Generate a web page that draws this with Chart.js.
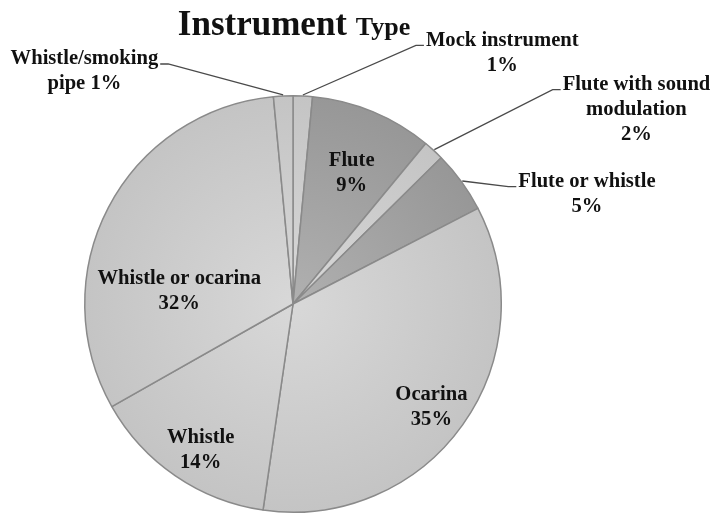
<!DOCTYPE html>
<html>
<head>
<meta charset="utf-8">
<script src="https://cdn.jsdelivr.net/npm/chart.js@4.4.0/dist/chart.umd.min.js"></script>
<style>
    html, body { margin: 0; padding: 0; background: #ffffff; }
    #wrap { width: 713px; height: 517px; }
</style>
</head>
<body>
<div id="wrap"><canvas id="instrumentchart"></canvas></div>
<script>
"use strict";

/* data, clockwise from 12 o'clock */
var categories = ['Mock instrument', 'Flute', 'Flute with sound modulation', 'Flute or whistle', 'Ocarina', 'Whistle', 'Whistle or ocarina', 'Whistle/smoking pipe'];
var sliceShares = [1.5, 9.5, 1.6, 4.8, 34.9, 14.5, 31.7, 1.5];
var percentLabels = ['1%', '9%', '2%', '5%', '35%', '14%', '32%', '1%'];
var labelLines = [
    ['Mock instrument', percentLabels[0]],
    ['Flute', percentLabels[1]],
    ['Flute with sound', 'modulation', percentLabels[2]],
    ['Flute or whistle', percentLabels[3]],
    ['Ocarina', percentLabels[4]],
    ['Whistle', percentLabels[5]],
    ['Whistle or ocarina', percentLabels[6]],
    ['Whistle/smoking', 'pipe ' + percentLabels[7]]
];

/* label placement: angle (deg clockwise from top), distance in radii, leader line */
var labelPlace = [
    { a: 39.8, r: 1.57, lead: true },
    { a: 24.1, r: 0.69, lead: false },
    { a: 60.5, r: 1.895, lead: true },
    { a: 69.5, r: 1.507, lead: true },
    { a: 126.8, r: 0.83, lead: false },
    { a: 212.3, r: 0.83, lead: false },
    { a: 276.5, r: 0.55, lead: false },
    { a: 318.1, r: 1.50, lead: true }
];
var darkSlices = [false, true, false, true, false, false, false, false];

var labelFont = 'bold 20.6px "Liberation Serif", "Times New Roman", serif';

function sliceFill(context) {
    var chart = context.chart;
    var area = chart.chartArea;
    var dark = darkSlices[context.dataIndex];
    if (!area) {
        return dark ? '#a0a0a0' : '#cbcbcb';
    }
    var cx = (area.left + area.right) / 2;
    var cy = (area.top + area.bottom) / 2;
    var r = Math.min(area.right - area.left, area.bottom - area.top) / 2;
    var g = chart.ctx.createRadialGradient(cx, cy, 0, cx, cy, r);
    if (dark) {
        g.addColorStop(0, '#b0b0b0');
        g.addColorStop(1, '#979797');
    } else {
        g.addColorStop(0, '#d8d8d8');
        g.addColorStop(1, '#c4c4c4');
    }
    return g;
}

/* title with mixed sizes, like the original */
var titlePlugin = {
    id: 'mixedTitle',
    afterDraw: function (chart) {
        var ctx = chart.ctx;
        var arc = chart.getDatasetMeta(0).data[0];
        ctx.save();
        ctx.fillStyle = '#111111';
        ctx.textBaseline = 'alphabetic';
        ctx.font = 'bold 35px "Liberation Serif", serif';
        var w1 = ctx.measureText('Instrument ').width;
        ctx.font = 'bold 26px "Liberation Serif", serif';
        var w2 = ctx.measureText('Type').width;
        var x0 = arc.x + 1 - (w1 + w2) / 2;
        ctx.textAlign = 'left';
        ctx.font = 'bold 35px "Liberation Serif", serif';
        ctx.fillText('Instrument ', x0, 35);
        ctx.font = 'bold 26px "Liberation Serif", serif';
        ctx.fillText('Type', x0 + w1, 35);
        ctx.restore();
    }
};

/* slice labels with leader lines */
var sliceLabelPlugin = {
    id: 'sliceLabels',
    afterDatasetsDraw: function (chart) {
        var ctx = chart.ctx;
        var arcs = chart.getDatasetMeta(0).data;
        var lineGap = 25;
        ctx.save();
        ctx.font = labelFont;
        ctx.fillStyle = '#111111';
        ctx.textAlign = 'center';
        ctx.textBaseline = 'middle';
        arcs.forEach(function (arc, i) {
            var place = labelPlace[i];
            var lines = labelLines[i];
            var R = arc.outerRadius;
            var t = (place.a - 90) * Math.PI / 180;
            var bx = arc.x + Math.cos(t) * place.r * R;
            var by = arc.y + Math.sin(t) * place.r * R;
            var y0 = by - (lines.length - 1) * lineGap / 2;
            if (place.lead) {
                var mid = (arc.startAngle + arc.endAngle) / 2;
                var px = arc.x + Math.cos(mid) * (R + 1);
                var py = arc.y + Math.sin(mid) * (R + 1);
                var w = ctx.measureText(lines[0]).width;
                var right = bx > arc.x;
                var ex = right ? bx - w / 2 - 2 : bx + w / 2 + 2;
                var ey = y0 + 5;
                var elbow = right ? ex - 8 : ex + 8;
                ctx.beginPath();
                ctx.strokeStyle = '#4a4a4a';
                ctx.lineWidth = 1.3;
                ctx.moveTo(px, py);
                ctx.lineTo(elbow, ey);
                ctx.lineTo(ex, ey);
                ctx.stroke();
            }
            lines.forEach(function (txt, k) {
                ctx.fillText(txt, bx, y0 + k * lineGap);
            });
        });
        ctx.restore();
    }
};

var chartCtx = document.getElementById('instrumentchart').getContext('2d');
var pieConfig = {
    type: 'pie',
    data: {
        labels: categories,
        datasets: [{
            data: sliceShares,
            backgroundColor: sliceFill,
            borderColor: '#8a8a8a',
            borderWidth: 1.5
        }]
    },
    options: {
        responsive: true,
        maintainAspectRatio: false,
        animation: false,
        layout: {
            padding: { top: 95, bottom: 4, left: 84, right: 211 }
        },
        plugins: {
            legend: { display: false },
            title: { display: false },
            tooltip: { enabled: false }
        }
    },
    plugins: [sliceLabelPlugin, titlePlugin]
};
var instrumentChart = new Chart(chartCtx, pieConfig);
</script>
</body>
</html>
